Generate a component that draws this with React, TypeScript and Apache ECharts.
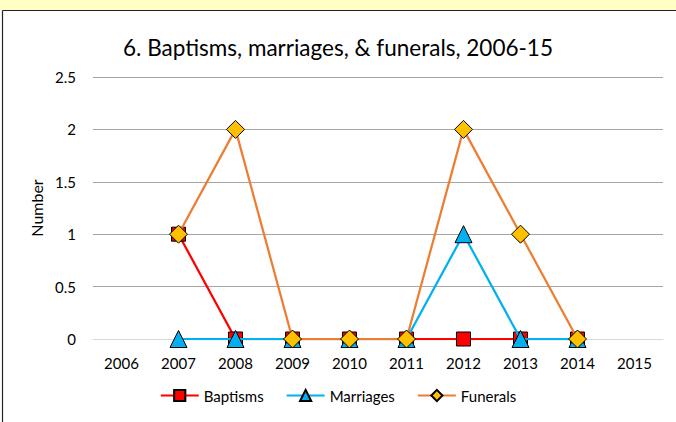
import React, { useEffect, useRef } from "react";
import * as echarts from "echarts";

const years = ["2006", "2007", "2008", "2009", "2010", "2011", "2012", "2013", "2014", "2015"];
const baptisms = [null, 1, 0, 0, 0, 0, 0, 0, 0, null];
const marriages = [null, 0, 0, 0, 0, 0, 1, 0, 0, null];
const funerals = [null, 1, 2, 0, 0, 0, 2, 1, 0, null];
const yTicks = [0, 0.5, 1, 1.5, 2, 2.5];

const FONT = "Lato, 'Open Sans', sans-serif";

export default function App() {
  const ref = useRef<HTMLDivElement>(null);
  useEffect(() => {
    const chart = echarts.init(ref.current!, null, { renderer: "svg" });
    chart.setOption({
      animation: false,
      backgroundColor: "#ffffff",
      graphic: [
        { type: "rect", shape: { x: 0, y: 0, width: 676, height: 10 }, style: { fill: "#FFFFC6" }, silent: true },
        { type: "line", shape: { x1: 2.5, y1: 10.5, x2: 676, y2: 10.5 }, style: { stroke: "#222", lineWidth: 1.2 } },
        { type: "line", shape: { x1: 2.5, y1: 10.5, x2: 2.5, y2: 422 }, style: { stroke: "#222", lineWidth: 1.2 } },
      ],
      title: {
        text: "6. Baptisms, marriages, & funerals, 2006-15",
        left: "center",
        top: 31,
        textStyle: { fontFamily: FONT, fontSize: 22.5, fontWeight: "normal", color: "#000" },
      },
      grid: { left: 93, right: 13, top: 77, bottom: 83 },
      legend: {
        bottom: 14,
        left: "center",
        itemWidth: 38,
        itemHeight: 14,
        itemGap: 22,
        textStyle: { fontFamily: FONT, fontSize: 15, color: "#000" },
        data: ["Baptisms", "Marriages", "Funerals"],
      },
      xAxis: {
        type: "category",
        data: years,
        boundaryGap: true,
        axisLine: { show: true, lineStyle: { color: "#D9D9D9", width: 1 } },
        axisTick: { show: false },
        axisLabel: { fontFamily: FONT, fontSize: 15, color: "#000", margin: 16 },
      },
      yAxis: {
        type: "value",
        min: yTicks[0],
        max: yTicks[yTicks.length - 1],
        interval: 0.5,
        name: "Number",
        nameLocation: "middle",
        nameGap: 45,
        nameTextStyle: { fontFamily: FONT, fontSize: 16, color: "#000" },
        axisLine: { show: false },
        axisTick: { show: false },
        axisLabel: { fontFamily: FONT, fontSize: 15, color: "#000", margin: 17 },
        splitLine: { lineStyle: { color: "#A6A6A6", width: 1 } },
      },
      series: [
        {
          name: "Baptisms",
          type: "line",
          data: baptisms,
          z: 2,
          symbol: "rect",
          symbolSize: 14,
          lineStyle: { color: "#FF0000", width: 2.25 },
          itemStyle: { color: "#FF0000", borderColor: "#000", borderWidth: 1 },
        },
        {
          name: "Marriages",
          type: "line",
          data: marriages,
          z: 3,
          symbol: "triangle",
          symbolSize: 17,
          lineStyle: { color: "#00B0F0", width: 2.25 },
          itemStyle: { color: "#00B0F0", borderColor: "#000", borderWidth: 1 },
        },
        {
          name: "Funerals",
          type: "line",
          data: funerals,
          z: 4,
          symbol: "diamond",
          symbolSize: 18,
          lineStyle: { color: "#ED7D31", width: 2.25 },
          itemStyle: { color: "#FFC000", borderColor: "#000", borderWidth: 1 },
        },
      ],
    });
    return () => chart.dispose();
  }, []);
  return <div ref={ref} style={{ width: 676, height: 422, position: "fixed", left: 0, top: 0 }} />;
}
